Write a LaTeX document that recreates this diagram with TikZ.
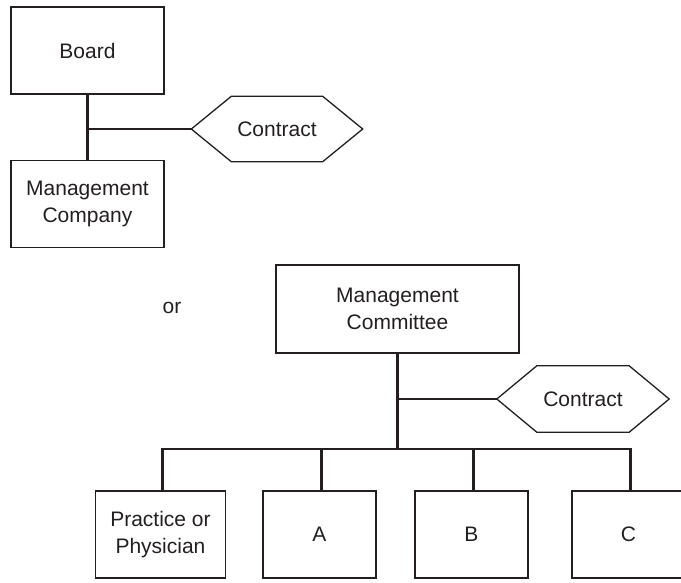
\documentclass[tikz,border=0pt]{standalone}
\usepackage{fontspec}
\setmainfont{Liberation Sans}
\definecolor{ink}{HTML}{231F20}
\begin{document}
\begin{tikzpicture}[x=1pt,y=-1pt,
  every node/.style={font=\fontsize{21}{27}\selectfont, text=ink},
  box/.style={draw=ink, line width=1.3pt, align=center, inner sep=0pt},
  bigbox/.style={box, minimum width=153pt, minimum height=87pt},
  unit/.style={box, minimum width=113pt, minimum height=87pt},
  hexlabel/.style={inner sep=0pt, minimum width=171pt, minimum height=65pt},
  hexline/.style={draw=ink, line width=1.3pt, line join=miter},
  link/.style={draw=ink, line width=2.2pt}
]
\useasboundingbox (0,0) rectangle (681,582);

% upper arrangement: board and management company
\node[bigbox] (board) at (87.5,50.5) {Board};
\node[bigbox] (mgco) at (87.5,204) {Management\\Company};
\node[hexlabel] (k1) at (277,129) {Contract};
\path[hexline] (k1.west) -- ([xshift=40pt]k1.north west) -- ([xshift=-40pt]k1.north east)
  -- (k1.east) -- ([xshift=-40pt]k1.south east) -- ([xshift=40pt]k1.south west) -- cycle;
\coordinate (j1) at (board.south |- k1.west);
\path[link] (board.south) -- (mgco.north);
\path[link] (j1) -- (k1.west);

\node (or) at (172,308) {or};

% lower arrangement: management committee over practices
\node[box, minimum width=243pt, minimum height=88pt] (mc) at (397.5,309) {Management\\Committee};
\node[hexlabel, minimum width=172pt, minimum height=66pt] (k2) at (583,399) {Contract};
\path[hexline] (k2.west) -- ([xshift=40pt]k2.north west) -- ([xshift=-40pt]k2.north east)
  -- (k2.east) -- ([xshift=-40pt]k2.south east) -- ([xshift=40pt]k2.south west) -- cycle;

\node[box, minimum width=130pt, minimum height=87pt] (pp) at (160.5,534.5) {Practice or\\Physician};
\node[unit] (ua) at (319.5,534.5) {A};
\node[unit] (ub) at (471.5,534.5) {B};
\node[unit] (uc) at (628.5,534.5) {C};

\coordinate (bus) at (mc.south |- 0,449);
\coordinate (j2) at (mc.south |- k2.west);
\path[link] (mc.south) -- (bus);
\path[link] (j2) -- (k2.west);
\path[link] ([xshift=2pt]pp.north) |- (bus) -| ([xshift=2pt]uc.north);
\path[link] ([xshift=2pt]ua.north) -- ([xshift=2pt]ua.north |- bus);
\path[link] ([xshift=2pt]ub.north) -- ([xshift=2pt]ub.north |- bus);
\end{tikzpicture}
\end{document}
